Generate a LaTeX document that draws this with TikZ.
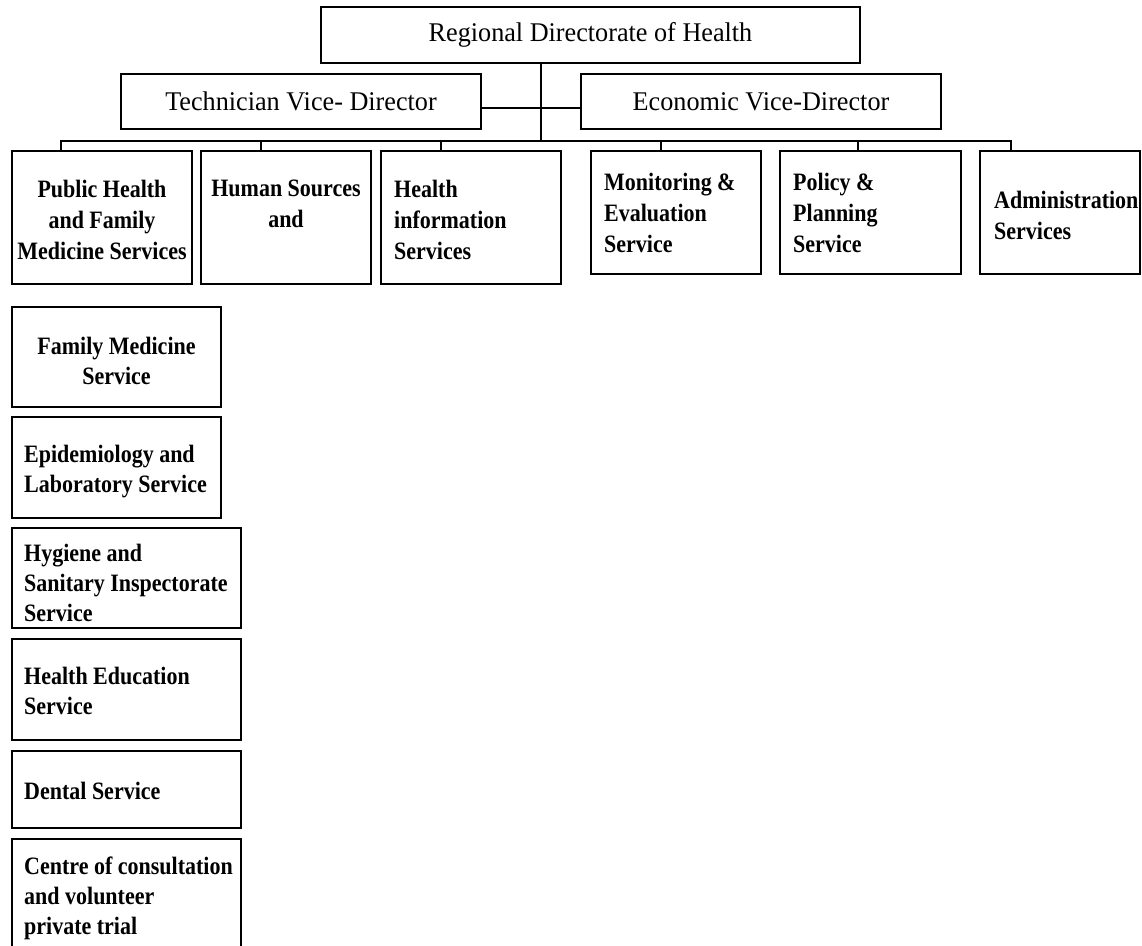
\documentclass[tikz,border=0pt]{standalone}
\usepackage{fontspec}
\setmainfont{Liberation Serif}
\newfontfamily\headfont{Liberation Serif}[FakeStretch=0.97]
\newfontfamily\unitfont{Liberation Serif}[FakeStretch=0.88]
\begin{document}
\begin{tikzpicture}[x=1pt,y=-1pt,
  box/.style={draw=black,line width=1.2pt,rectangle,inner sep=0pt},
  headtxt/.style={font=\headfont\fontsize{27}{32}\selectfont,inner sep=0pt},
  rowtxt/.style={font=\unitfont\bfseries\fontsize{25}{31}\selectfont,inner sep=0pt},
  coltxt/.style={font=\unitfont\bfseries\fontsize{25}{30}\selectfont,inner sep=0pt},
  link/.style={draw=black,line width=1.2pt}]
\clip (0,0) rectangle (1142,945);
\fill[white] (0,0) rectangle (1142,945);

% directorate and vice-directors
\node[box,minimum width=539pt,minimum height=56pt,headtxt] (rdh) at (590.5,35) {Regional Directorate of Health};
\node[box,minimum width=360pt,minimum height=55pt,headtxt] (tech) at (301,101.5) {Technician Vice- Director};
\node[box,minimum width=360pt,minimum height=55pt,headtxt] (econ) at (761,101.5) {Economic Vice-Director};

% services row
\node[box,minimum width=180pt,minimum height=133pt] (ph) at (102,217.5) {};
\node[box,minimum width=170pt,minimum height=133pt] (hs) at (286,217.5) {};
\node[box,minimum width=180pt,minimum height=133pt] (hi) at (471,217.5) {};
\node[box,minimum width=170pt,minimum height=123pt] (me) at (676,212.5) {};
\node[box,minimum width=181pt,minimum height=123pt] (pp) at (870.5,212.5) {};
\node[box,minimum width=160pt,minimum height=123pt] (ad) at (1060,212.5) {};

\node[rowtxt,align=center,anchor=north] (phT) at (102,180) {Public Health\\and Family\\Medicine Services};
\node[rowtxt,align=center,anchor=north] (hsT) at (286,180) {Human Sources\\and};
\node[rowtxt,align=left,anchor=north west] (hiT) at (394,180) {Health\\information\\Services};
\node[rowtxt,align=left,anchor=north west] (meT) at (604,173) {Monitoring \&\\Evaluation\\Service};
\node[rowtxt,align=left,anchor=north west] (ppT) at (793,173) {Policy \&\\Planning\\Service};
\node[rowtxt,align=left,anchor=north west] (adT) at (994,191) {Administration\\Services};

% public health sub-services column
\node[box,minimum width=209pt,minimum height=100pt] (fm) at (116.5,357) {};
\node[box,minimum width=209pt,minimum height=101pt] (ep) at (116.5,467.5) {};
\node[box,minimum width=229pt,minimum height=100pt] (hy) at (126.5,578) {};
\node[box,minimum width=229pt,minimum height=101pt] (he) at (126.5,689.5) {};
\node[box,minimum width=229pt,minimum height=77pt] (de) at (126.5,789.5) {};
\node[box,minimum width=229pt,minimum height=130pt] (ce) at (126.5,904) {};

\node[coltxt,align=center,anchor=north] (fmT) at (116.5,337) {Family Medicine\\Service};
\node[coltxt,align=left,anchor=north west] (epT) at (24,445) {Epidemiology and\\Laboratory Service};
\node[coltxt,align=left,anchor=north west] (hyT) at (24,544) {Hygiene and\\Sanitary Inspectorate\\Service};
\node[coltxt,align=left,anchor=north west] (heT) at (24,667) {Health Education\\Service};
\node[coltxt,align=left,anchor=north west] (deT) at (24,782) {Dental Service};
\node[coltxt,align=left,anchor=north west] (ceT) at (24,857) {Centre of consultation\\and volunteer\\private trial};

% connectors
\coordinate (hub) at (541,141);
\coordinate (vj) at (541,108);
\draw[link] (rdh.south -| hub) -- (hub);
\draw[link] (tech.east |- vj) -- (econ.west |- vj);
\coordinate (d1) at (61,141);
\coordinate (d2) at (261,141);
\coordinate (d3) at (441,141);
\coordinate (d4) at (661,141);
\coordinate (d5) at (858,141);
\coordinate (d6) at (1011,141);
\draw[link] (d1 |- ph.north) -- (d1) -- (d6) -- (d6 |- ad.north);
\draw[link] (d2) -- (d2 |- hs.north);
\draw[link] (d3) -- (d3 |- hi.north);
\draw[link] (d4) -- (d4 |- me.north);
\draw[link] (d5) -- (d5 |- pp.north);
\end{tikzpicture}
\end{document}
